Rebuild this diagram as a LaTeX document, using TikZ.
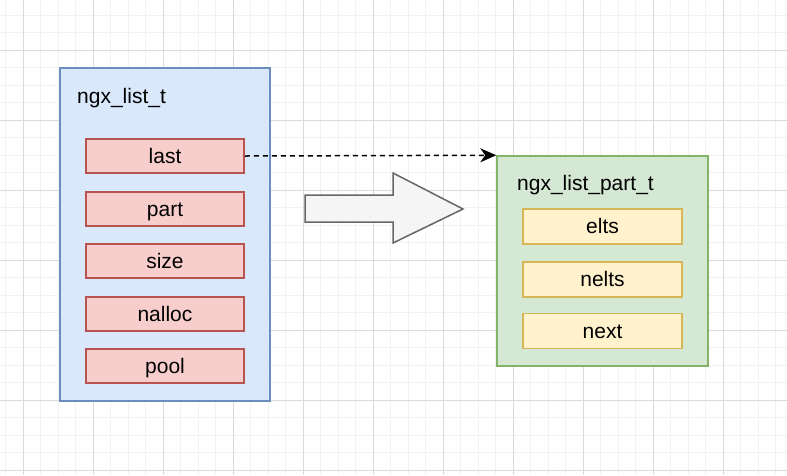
\documentclass[tikz,border=0pt]{standalone}
\usepackage{fontspec}
\setmainfont{Liberation Sans}
\usetikzlibrary{arrows.meta}
\definecolor{gridminor}{HTML}{F2F2F2}
\definecolor{gridmajor}{HTML}{DADADA}
\definecolor{bluefill}{HTML}{DAE8FC}
\definecolor{bluedraw}{HTML}{6C8EBF}
\definecolor{redfill}{HTML}{F8CECC}
\definecolor{reddraw}{HTML}{B85450}
\definecolor{greenfill}{HTML}{D5E8D4}
\definecolor{greendraw}{HTML}{82B366}
\definecolor{yellowfill}{HTML}{FFF2CC}
\definecolor{yellowdraw}{HTML}{D6B656}
\definecolor{arrowfill}{HTML}{F5F5F5}
\definecolor{arrowdraw}{HTML}{666666}
\tikzset{
  txt/.style={font=\fontsize{21}{25}\selectfont},
  container/.style={draw, line width=1.5pt, inner sep=0pt},
  field/.style={line width=1.5pt, inner sep=0pt, text height=19pt, text depth=4.4pt, txt},
  redfield/.style={field, draw=reddraw, fill=redfill, minimum width=158pt, minimum height=34pt},
  yellowfield/.style={field, draw=yellowdraw, fill=yellowfill, minimum width=159pt, minimum height=35pt},
}
\begin{document}
\begin{tikzpicture}[x=1pt,y=-1pt]
\useasboundingbox (0,0) rectangle (787,475);
\fill[white] (0,0) rectangle (787,475);
% grid
\foreach \i in {0,...,45} {
  \pgfmathsetmacro{\gx}{5.5+17.5*\i}
  \draw[gridminor, line width=1pt] (\gx,0) -- (\gx,475);
}
\foreach \i in {0,...,27} {
  \pgfmathsetmacro{\gy}{15+17.5*\i}
  \draw[gridminor, line width=1pt] (0,\gy) -- (787,\gy);
}
\foreach \i in {0,...,11} {
  \pgfmathsetmacro{\gx}{23+70*\i}
  \draw[gridmajor, line width=1pt] (\gx,0) -- (\gx,475);
}
\foreach \i in {0,...,6} {
  \pgfmathsetmacro{\gy}{50+70*\i}
  \draw[gridmajor, line width=1pt] (0,\gy) -- (787,\gy);
}
% left container
\node[container, draw=bluedraw, fill=bluefill, minimum width=210pt, minimum height=333pt] (list) at (165,234.5) {};
\node[txt, anchor=base west, inner sep=0pt] (listtitle) at (77,103) {ngx\_list\_t};
\node[redfield] (last) at (165,156) {last};
\node[redfield] (part) at (165,209) {part};
\node[redfield] (size) at (165,261) {size};
\node[redfield] (nalloc) at (165,314) {nalloc};
\node[redfield] (pool) at (165,366) {pool};
% right container
\node[container, draw=greendraw, fill=greenfill, minimum width=211pt, minimum height=210pt] (lpart) at (602.5,261) {};
\node[txt, anchor=base west, inner sep=0pt] (parttitle) at (517,190) {ngx\_list\_part\_t};
\node[yellowfield] (elts) at (602.5,226.5) {elts};
\node[yellowfield] (nelts) at (602.5,279.5) {nelts};
\node[yellowfield] (next) at (602.5,331) {next};
% big arrow
\draw[draw=arrowdraw, fill=arrowfill, line width=1.5pt, line join=miter]
  (305,195) -- (393,195) -- (393,173) -- (463,209) -- (393,243) -- (393,222) -- (305,222) -- cycle;
% dashed connector
\draw[line width=1.5pt, dash pattern=on 5pt off 4pt, -{Stealth[length=16pt,width=14pt,inset=5pt]}] (last.east) -- (lpart.north west);
\end{tikzpicture}
\end{document}
